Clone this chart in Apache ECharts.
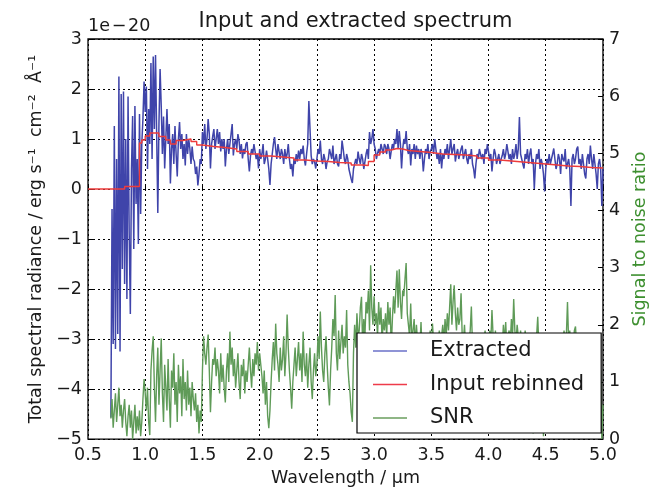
<!DOCTYPE html>
<html><head><meta charset="utf-8">
<script src="https://cdn.jsdelivr.net/npm/echarts@6/dist/echarts.min.js"></script>
<style>html,body{margin:0;padding:0;background:#fff}#c{width:657px;height:492px}</style>
</head><body><div id="c"></div>
<script>
// ---- Data ----
// Sampling grid of the extracted spectrum and SNR (µm)
const gridStart = 0.70;
const gridStep = 0.01;

// Extracted spectrum, units of 1e-20 erg s-1 cm-2 Å-1, one value per 0.01 µm from 0.70 to 5.00
const extracted = [
  -4.57,-0.4,-3.1,1.26,-3.2,0.6,-2.9,2.25,-3.25,1.9,
  -1.6,1.95,-1.9,1.0,-2.2,1.85,-0.9,-2.5,0.4,1.46,
  -1.2,1.66,-0.3,0.6,-1.1,1.5,-0.5,0.9,1.4,2.15,
  1.54,2.05,0.4,1.6,0.9,2.52,0.6,2.65,1.2,2.68,
  1.1,-0.48,1.3,2.4,1.65,0.7,1.45,0.41,1.0,1.6,
  0.9,1.3,0.11,0.8,1.1,0.5,1.26,0.7,0.25,1.0,
  1.34,0.8,1.1,0.6,0.9,0.47,1.1,0.7,1.0,0.81,
  0.5,0.85,0.6,0.55,0.3,0.45,0.07,0.3,0.6,0.5,
  1.14,0.9,1.3,0.8,1.0,1.4,1.1,0.41,0.9,1.06,
  1.2,0.8,1.0,1.2,0.9,1.14,0.75,1.0,0.8,1.0,
  0.45,0.8,1.0,0.7,0.9,1.1,1.3,0.67,0.9,1.0,
  0.8,1.1,0.97,0.7,0.9,0.61,0.8,0.7,0.9,0.94,
  0.6,0.35,0.67,0.8,0.7,0.9,0.87,0.6,0.7,0.41,
  0.8,0.6,0.7,0.9,0.5,0.6,0.77,0.6,0.4,0.08,
  0.5,0.7,0.9,1.04,0.8,0.6,0.9,0.75,0.6,0.8,
  0.7,0.5,0.8,0.6,0.7,0.9,0.6,0.4,0.5,0.25,
  0.6,0.5,0.7,0.55,0.77,0.6,0.8,0.7,0.87,0.6,
  0.47,0.7,0.9,1.76,1.2,0.67,0.5,0.6,0.55,0.41,
  0.6,0.8,0.7,0.97,0.6,0.5,0.7,0.6,0.4,0.55,
  0.6,0.8,0.7,0.6,0.87,0.5,0.6,0.7,0.5,0.45,
  0.7,0.6,0.97,0.8,0.6,0.5,0.7,0.6,0.4,0.3,
  0.2,0.12,0.4,0.5,0.6,0.5,0.75,0.6,0.5,0.7,
  0.6,0.4,0.55,0.7,0.8,0.6,1.14,0.9,1.0,1.2,
  0.9,0.8,0.6,0.71,0.8,0.7,0.9,0.8,0.7,0.9,
  0.85,0.7,0.9,0.8,0.6,0.77,0.9,0.8,1.0,0.9,
  1.2,0.8,1.16,0.9,0.41,0.8,1.0,0.9,1.16,0.8,
  0.7,0.9,0.47,0.8,0.7,0.9,0.6,0.87,0.7,0.8,
  0.6,0.8,0.7,0.35,0.6,0.8,0.7,0.9,0.6,0.75,
  0.8,0.9,0.7,1.0,0.8,0.6,0.7,0.5,0.8,0.41,
  0.7,0.6,0.8,0.7,0.9,0.6,0.8,1.0,0.7,0.8,
  0.9,0.55,0.7,0.8,0.6,0.7,0.8,0.87,0.6,0.7,
  0.8,0.6,0.5,0.7,0.6,0.8,0.5,0.4,0.21,0.5,
  0.7,0.6,0.8,0.77,0.6,0.7,0.5,0.8,0.7,0.9,
  0.9,0.6,0.7,0.35,0.6,0.8,0.7,0.5,0.6,0.7,
  0.5,0.6,0.67,0.8,0.6,0.7,0.9,0.87,0.6,0.7,
  0.5,0.8,0.6,0.7,0.9,0.6,0.8,1.44,0.7,0.6,
  0.5,0.41,0.7,0.6,0.8,0.5,0.7,0.81,0.5,0.6,
  0.0,0.5,0.7,0.6,0.8,0.4,0.6,0.5,0.3,-0.05,
  0.4,0.6,0.5,0.7,0.5,0.6,0.7,0.81,0.6,0.4,
  0.5,0.7,0.6,0.3,0.7,0.6,0.55,0.8,0.4,0.5,
  0.6,0.4,-0.34,0.6,0.7,0.5,0.6,0.8,0.85,0.5,
  0.6,0.4,0.7,0.5,0.3,0.21,0.6,0.7,0.5,0.87,
  0.6,0.4,0.7,0.5,0.3,0.0,0.5,0.6,0.4,-0.34,0.4
];

// Signal to noise ratio, same grid
const snr = [
  0.36,0.7,0.2,0.5,0.8,0.3,0.6,0.9,0.4,0.6,
  0.2,0.5,0.7,0.3,0.05,0.4,0.6,0.2,0.5,0.0,
  0.3,0.6,0.1,0.4,0.15,0.5,0.05,0.3,0.7,1.05,
  0.8,0.5,0.9,0.3,0.07,1.2,1.55,1.8,0.9,0.3,
  1.1,1.6,0.6,1.2,1.76,0.8,0.3,1.3,0.9,0.5,
  1.4,0.7,0.2,1.2,0.9,1.5,0.6,1.0,0.3,1.3,
  0.8,1.1,0.4,1.4,0.7,1.0,0.5,1.2,0.6,0.9,
  0.4,1.0,0.7,0.5,0.8,0.3,0.6,0.1,0.5,0.3,
  1.2,1.8,1.5,1.3,1.6,1.83,1.2,0.47,1.0,1.4,
  1.3,1.6,1.1,1.4,1.2,0.8,1.5,1.0,1.3,0.9,
  0.64,1.2,1.5,1.0,1.88,1.3,1.6,1.1,1.4,0.9,
  1.2,1.5,1.0,0.7,1.3,1.1,1.4,0.8,1.2,1.0,
  1.3,1.6,1.2,0.9,1.4,1.1,1.5,1.3,1.7,1.2,
  1.5,1.3,1.1,0.8,1.2,0.6,1.0,0.4,0.19,0.5,
  1.0,1.4,1.7,1.2,2.02,1.5,1.3,1.0,1.6,1.2,
  1.4,1.8,1.1,1.5,2.18,1.6,1.2,0.9,0.53,1.0,
  1.3,1.6,1.1,1.4,1.7,1.2,1.5,1.0,1.88,1.3,
  1.1,1.5,0.9,1.3,1.6,1.0,0.7,1.2,1.5,1.1,
  1.3,1.8,1.4,2.23,1.6,1.2,1.0,1.5,1.8,1.3,
  0.9,0.59,1.2,1.6,2.1,1.8,2.52,1.5,1.2,1.9,
  1.4,1.7,2.0,1.5,1.8,1.6,2.26,1.3,1.0,0.8,
  0.47,0.3,1.5,2.0,1.6,2.2,1.8,1.9,2.3,2.49,
  1.6,2.1,1.8,2.4,2.2,2.6,1.9,3.04,2.3,2.0,
  2.5,2.0,2.2,1.8,2.4,2.0,2.3,1.7,2.1,1.9,
  2.2,1.8,2.4,2.0,2.3,1.6,2.1,2.5,2.2,2.6,
  2.95,2.3,2.97,2.4,2.1,2.6,2.5,2.8,3.08,2.2,
  2.2,1.8,2.37,1.7,1.9,2.1,1.6,2.0,1.7,1.8,
  1.6,2.05,1.5,1.8,1.7,1.4,1.6,1.8,1.5,1.9,
  1.6,2.02,1.7,1.5,1.8,1.4,1.7,1.9,1.6,1.8,
  2.0,1.7,2.1,1.8,2.2,1.9,2.3,2.71,2.0,2.4,
  2.69,2.2,1.9,2.3,2.0,2.1,2.55,1.8,1.7,2.0,
  1.6,1.8,1.5,1.7,1.9,2.32,1.6,1.4,1.7,1.8,
  1.5,1.7,1.4,1.8,1.6,1.3,1.7,1.9,1.5,1.8,
  1.6,1.9,1.7,2.26,1.8,1.5,1.9,1.6,1.8,1.7,
  1.5,1.8,1.6,2.0,1.7,2.05,1.6,1.8,1.9,1.7,
  2.1,1.8,2.45,1.9,1.7,2.0,1.8,1.6,1.9,1.7,
  1.8,1.6,1.9,1.7,1.5,1.8,1.6,1.4,1.7,0.1,
  1.7,1.5,1.8,2.14,1.6,1.4,1.7,1.5,0.05,1.6,
  1.5,1.7,1.4,1.6,1.8,1.5,1.3,1.7,1.6,1.4,
  1.7,1.5,1.8,1.6,1.4,1.7,1.9,1.6,1.8,2.4,
  1.7,1.9,1.5,1.8,1.6,1.9,1.97,1.6,1.4,1.7,
  1.5,1.8,1.6,1.4,1.7,1.5,1.3,1.6,1.4,1.2,
  1.62,1.3,1.5,0.9,1.2,0.4,1.0,0.2,1.2,0.0,0.6
];

// Input rebinned (staircase): wavelength of each bin start and its value (1e-20 units)
const inputWavelength = [0.50,0.82,0.95,0.97,1.00,1.04,1.12,1.18,1.22,1.27,1.33,1.40,1.45,1.50,1.60,1.70,1.80,1.90,2.00,2.10,2.20,2.30,2.40,2.50,2.60,2.70,2.80,2.90,2.95,3.00,3.05,3.10,3.15,3.20,3.25,3.30,3.40,3.50,3.60,3.70,3.80,3.90,4.00,4.10,4.20,4.30,4.40,4.50,4.60,4.70,4.80,4.90,5.00];
const inputRebinned  = [0.00,0.05,0.92,0.98,1.06,1.12,1.05,0.98,0.90,0.97,1.00,0.95,0.88,0.85,0.83,0.80,0.75,0.70,0.66,0.64,0.62,0.58,0.56,0.55,0.53,0.52,0.48,0.47,0.55,0.68,0.74,0.78,0.81,0.80,0.77,0.75,0.73,0.70,0.69,0.68,0.66,0.62,0.58,0.56,0.54,0.52,0.50,0.48,0.46,0.45,0.43,0.42,0.41];

// Tick labels
const xTickLabels = ['0.5','1.0','1.5','2.0','2.5','3.0','3.5','4.0','4.5','5.0'];
const leftTickLabels = ['\u22125','\u22124','\u22123','\u22122','\u22121','0','1','2','3'];
const rightTickLabels = ['0','1','2','3','4','5','6','7'];

// ---- Build chart ----
const pairs = (vals) => vals.map((v, i) => [+(gridStart + i * gridStep).toFixed(2), v]);
const inputPairs = inputWavelength.map((w, i) => [w, inputRebinned[i]]);

const FONT = 'DejaVu Sans';
const TXT = '#1a1a1a';
const gridLine = { show: true, lineStyle: { color: '#000', type: [2, 3], width: 1 } };

const chart = echarts.init(document.getElementById('c'), null, { renderer: 'canvas' });
chart.setOption({
  animation: false,
  backgroundColor: '#fff',
  title: {
    text: 'Input and extracted spectrum',
    left: 350.5, top: 6, textAlign: 'center',
    textStyle: { fontFamily: FONT, fontSize: 21, fontWeight: 'normal', color: TXT }
  },
  graphic: [{
    type: 'text', x: 88, y: 35,
    style: { text: '1e\u200a\u2212\u200a20', fontFamily: FONT, fontSize: 17.5, fill: TXT, verticalAlign: 'bottom', align: 'left' }
  }],
  grid: { left: 88, top: 39, right: 44, bottom: 48, show: true, borderColor: '#000', borderWidth: 1.3, backgroundColor: 'transparent' },
  legend: {
    orient: 'vertical', left: 357, top: 333, z: 10,
    backgroundColor: '#fff', borderColor: '#000', borderWidth: 1.2, borderRadius: 0,
    padding: [7, 17, 4, 16],
    icon: 'rect', itemWidth: 34, itemHeight: 1.6, itemGap: 11.5,
    textStyle: { fontFamily: FONT, fontSize: 21, color: TXT, lineHeight: 22, padding: [0, 0, 0, 18] },
    data: ['Extracted', 'Input rebinned', 'SNR']
  },
  xAxis: {
    type: 'value', min: 0.5, max: 5.0, interval: 0.5,
    name: 'Wavelength / \u00b5m', nameLocation: 'middle', nameGap: 29,
    nameTextStyle: { fontFamily: FONT, fontSize: 17.5, color: TXT },
    axisLine: { show: false },
    axisTick: { show: true, inside: true, length: 5, lineStyle: { color: '#000' } },
    axisLabel: { fontFamily: FONT, fontSize: 17.5, color: TXT, margin: 7,
      formatter: (v) => xTickLabels[Math.round((v - 0.5) / 0.5)] },
    splitLine: gridLine
  },
  yAxis: [{
    type: 'value', min: -5, max: 3, interval: 1, position: 'left',
    name: 'Total spectral radiance / erg s\u207b\u00b9  cm\u207b\u00b2  \u00c5\u207b\u00b9',
    nameLocation: 'middle', nameGap: 40, nameRotate: 90,
    nameTextStyle: { fontFamily: FONT, fontSize: 17.5, color: TXT },
    axisLine: { show: false },
    axisTick: { show: true, inside: true, length: 5, lineStyle: { color: '#000' } },
    axisLabel: { fontFamily: FONT, fontSize: 17.5, color: TXT, margin: 6,
      formatter: (v) => leftTickLabels[Math.round(v + 5)] },
    splitLine: gridLine
  }, {
    type: 'value', min: 0, max: 7, interval: 1, position: 'right',
    name: 'Signal to noise ratio', nameLocation: 'middle', nameGap: 26, nameRotate: 90,
    nameTextStyle: { fontFamily: FONT, fontSize: 17.5, color: '#3d8f2f' },
    axisLine: { show: false },
    axisTick: { show: true, inside: true, length: 5, lineStyle: { color: '#000' } },
    axisLabel: { fontFamily: FONT, fontSize: 17.5, color: TXT, margin: 6,
      formatter: (v) => rightTickLabels[Math.round(v)] },
    splitLine: { show: false }
  }],
  series: [{
    name: 'Extracted', type: 'line', yAxisIndex: 0, symbol: 'none',
    data: pairs(extracted),
    lineStyle: { color: '#3f44aa', width: 1.5 }, itemStyle: { color: '#6a70c8' }, z: 2
  }, {
    name: 'Input rebinned', type: 'line', yAxisIndex: 0, symbol: 'none', step: 'end',
    data: inputPairs,
    lineStyle: { color: '#ee3b3b', width: 1.4 }, itemStyle: { color: '#ee3b4a' }, z: 2
  }, {
    name: 'SNR', type: 'line', yAxisIndex: 1, symbol: 'none',
    data: pairs(snr),
    lineStyle: { color: '#5f9b58', width: 1.4 }, itemStyle: { color: '#6a9e5e' }, z: 2
  }]
});
</script></body></html>
